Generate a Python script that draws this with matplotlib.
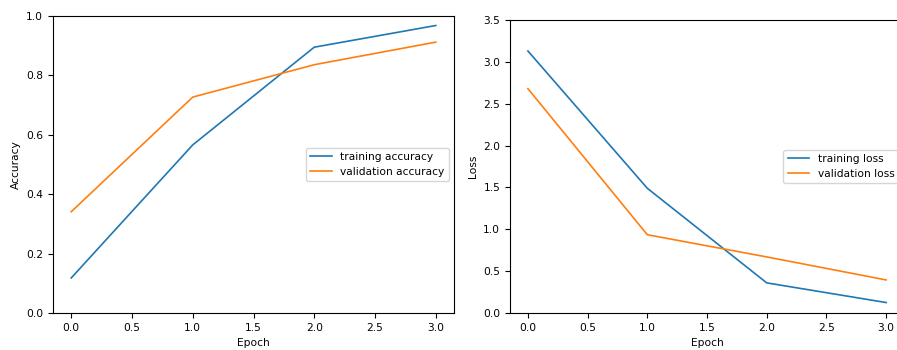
import matplotlib.pyplot as plt

epochs = [0, 1, 2, 3]

train_acc = [0.118, 0.566, 0.895, 0.968]
val_acc = [0.341, 0.727, 0.836, 0.912]

train_loss = [3.13, 1.49, 0.36, 0.125]
val_loss = [2.68, 0.935, 0.67, 0.395]

plt.rcParams['font.size'] = 7.7
plt.rcParams['lines.linewidth'] = 1.2

fig = plt.figure(figsize=(8.97, 3.5), dpi=100)

# left panel: accuracy
ax1 = fig.add_axes([53 / 897, 1 - 313 / 350, 401 / 897, 297 / 350])
ax1.plot(epochs, train_acc, label="training accuracy")
ax1.plot(epochs, val_acc, label="validation accuracy")
ax1.set_ylim(0, 1.0)
ax1.set_xlabel("Epoch")
ax1.set_ylabel("Accuracy")
ax1.legend(loc="center right")

# right panel: loss (runs past the right edge, as in the source image)
ax2 = fig.add_axes([510 / 897, 1 - 313 / 350, 394 / 897, 293 / 350])
ax2.plot(epochs, train_loss, label="training loss")
ax2.plot(epochs, val_loss, label="validation loss")
ax2.set_ylim(0, 3.5)
ax2.set_xlabel("Epoch")
ax2.set_ylabel("Loss")
ax2.legend(loc="center right")

fig.savefig("out.png", dpi=100)
